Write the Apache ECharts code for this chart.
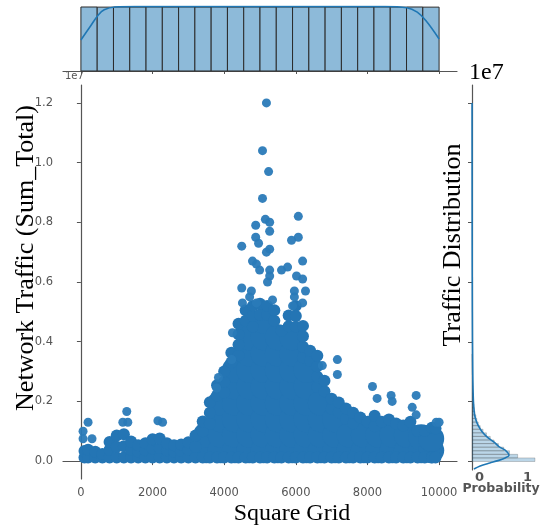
<!DOCTYPE html>
<html><head><meta charset="utf-8">
<script src="https://cdn.jsdelivr.net/npm/echarts@6/dist/echarts.min.js"></script>
<style>html,body{margin:0;padding:0;background:#fff}#c{width:545px;height:530px}</style>
</head><body><div id="c"></div>
<script>
// ---- data (traffic in units of 1e7) ----
const gridTicks = [0, 2000, 4000, 6000, 8000, 10000];
const trafficTicks = [0, 0.2, 0.4, 0.6, 0.8, 1.0, 1.2];
const probTicks = [0, 1];

// dense core of the scatter (columns of square-grid ids, traffic values per column)
const coreGrid = [3500, 3900, 4300, 4700, 5100, 5500, 5900, 6300, 6700, 7100, 7500, 7900, 8300, 8700, 9100, 9500, 9780];
const coreTraffic = [
  [0.036, 0.088],
  [0.036, 0.088, 0.14, 0.195],
  [0.036, 0.088, 0.14, 0.195, 0.25, 0.305],
  [0.036, 0.088, 0.14, 0.195, 0.25, 0.305, 0.36, 0.415],
  [0.036, 0.088, 0.14, 0.195, 0.25, 0.305, 0.36, 0.415, 0.47],
  [0.036, 0.088, 0.14, 0.195, 0.25, 0.305, 0.36, 0.415],
  [0.036, 0.088, 0.14, 0.195, 0.25, 0.305, 0.36, 0.415],
  [0.036, 0.088, 0.14, 0.195, 0.25, 0.305],
  [0.036, 0.088, 0.14, 0.195],
  [0.036, 0.088, 0.14],
  [0.036, 0.088],
  [0.036, 0.088],
  [0.036, 0.088],
  [0.036, 0.088],
  [0.036, 0.088],
  [0.036, 0.08],
  [0.036, 0.075]
];

// dense points along the body and upper edge of the scatter
const denseGrid = [100, 200, 400, 600, 800, 1000, 1200, 1400, 1600, 1800, 2000, 2200, 2400, 2600, 2800, 3000, 3200,
  3400, 3600, 3800, 4000, 4200, 4400, 4600, 4800, 5000, 5200, 5400, 5600, 5800, 6000, 6200, 6400, 6600, 6800,
  7000, 7200, 7400, 7600, 7800, 8000, 8200, 8400, 8600, 8800, 9000, 9200, 9400, 9600, 9800, 9900];
const denseTraffic = [
  [0.012, 0.034], [0.012, 0.038], [0.012, 0.031], [0.012, 0.024], [0.012, 0.038, 0.064],
  [0.012, 0.048, 0.086], [0.012, 0.05, 0.09], [0.012, 0.038, 0.066], [0.012, 0.032, 0.053], [0.012, 0.036, 0.06],
  [0.012, 0.042, 0.073], [0.012, 0.044, 0.076], [0.012, 0.036, 0.06], [0.012, 0.032, 0.053], [0.012, 0.034, 0.056],
  [0.012, 0.038, 0.063], [0.012, 0.048, 0.086],
  [0.012, 0.1, 0.133], [0.012, 0.126, 0.162, 0.197], [0.012, 0.22, 0.254], [0.012, 0.23, 0.266, 0.3], [0.012, 0.33, 0.363],
  [0.012, 0.355, 0.39, 0.425, 0.46], [0.012, 0.47, 0.505], [0.012, 0.45, 0.486, 0.52], [0.012, 0.49, 0.527],
  [0.012, 0.49, 0.52], [0.012, 0.47, 0.505], [0.012, 0.437], [0.012, 0.452, 0.488], [0.012, 0.45, 0.486, 0.52],
  [0.012, 0.348, 0.383, 0.418, 0.453], [0.012, 0.335, 0.37], [0.012, 0.248, 0.283, 0.318, 0.353], [0.012, 0.234, 0.269],
  [0.012, 0.175, 0.209], [0.012, 0.164, 0.196], [0.012, 0.141, 0.176], [0.012, 0.127, 0.162], [0.012, 0.146],
  [0.012, 0.132], [0.012, 0.117, 0.152], [0.012, 0.132], [0.012, 0.139], [0.012, 0.126], [0.012, 0.119],
  [0.012, 0.132], [0.012, 0.102], [0.012, 0.102], [0.012, 0.112], [0.012, 0.109]
];

// individual points above the dense body
const outlierGrid = [5180, 5070, 5240, 5070, 4880, 5150, 5270, 5270, 4880, 4960, 4490, 5270, 5180, 6070, 5880, 6070,
  6190, 4790, 4900, 4990, 5270, 5600, 5770, 5270, 5210, 6020, 6190, 4490, 4760, 4710, 4900, 5350, 5960, 6270, 5960,
  5910, 6190, 4510, 200, 60, 60, 310, 1280, 1170, 1310, 2150, 2280, 4230, 3840, 3790, 4210, 6740, 7160, 7160, 8140,
  8270, 8660, 8690, 9360, 9250, 9360, 9920, 10000];
const outlierTraffic = [1.20, 1.04, 0.97, 0.88, 0.79, 0.81, 0.80, 0.77, 0.75, 0.73, 0.72, 0.71, 0.70, 0.82, 0.74, 0.75,
  0.67, 0.67, 0.66, 0.64, 0.64, 0.64, 0.65, 0.62, 0.60, 0.62, 0.61, 0.58, 0.57, 0.55, 0.53, 0.54, 0.57, 0.57, 0.55,
  0.52, 0.53, 0.53, 0.13, 0.10, 0.075, 0.075, 0.166, 0.13, 0.13, 0.135, 0.13, 0.43, 0.28, 0.245, 0.34, 0.32, 0.34,
  0.29, 0.25, 0.21, 0.22, 0.20, 0.22, 0.18, 0.155, 0.13, 0.13];

// top marginal: square grid histogram (22 bins over 0..10000) and KDE
const gridBinCount = 22;
const gridCounts = [455, 454, 455, 454, 455, 454, 455, 454, 455, 454, 455, 454, 455, 454, 455, 454, 455, 454, 455, 454, 455, 454];
const gridKdeX = [0, 270, 470, 650, 950, 1500, 5000, 8500, 9100, 9390, 9640, 10000];
const gridKdeY = [220, 320, 393, 435, 455, 458, 458, 458, 450, 418, 355, 227];

// right marginal: traffic histogram (bin width 0.012) and KDE (probability)
const trafficBinWidth = 0.012;
const trafficProb = [1.31, 0.95, 0.78, 0.66, 0.55, 0.46, 0.38, 0.30, 0.23, 0.17, 0.13, 0.10, 0.08, 0.06, 0.05,
  0.04, 0.032, 0.026, 0.021, 0.017, 0.014, 0.012, 0.010, 0.009, 0.008, 0.007, 0.006, 0.006, 0.005, 0.005];
const kdeTraffic = [-0.025, -0.015, -0.005, 0.003, 0.012, 0.02, 0.028, 0.038, 0.05, 0.065, 0.08, 0.1, 0.12, 0.14, 0.16, 0.2, 0.3, 0.5, 0.8, 1.2];
const kdeProb = [0.04, 0.17, 0.37, 0.54, 0.69, 0.77, 0.75, 0.69, 0.56, 0.46, 0.33, 0.21, 0.13, 0.08, 0.05, 0.03, 0.015, 0.007, 0.003, 0.001];

// ---- build ----
const BLUE = '#2475b4';
const GRAY = '#555555';
const SERIF = '"Liberation Serif", "DejaVu Serif", serif';
const SANS = '"DejaVu Sans", sans-serif';

const corePts = [];
coreGrid.forEach((x, i) => coreTraffic[i].forEach(y => corePts.push([x, y])));
const densePts = [];
denseGrid.forEach((x, i) => denseTraffic[i].forEach(y => densePts.push([x, y])));
const outPts = outlierGrid.map((x, i) => [x, outlierTraffic[i]]);

const gw = 10000 / gridBinCount;
const topBins = gridCounts.map((c, i) => [i * gw, (i + 1) * gw, c]);
const rightBins = trafficProb.map((p, i) => [i * trafficBinWidth, (i + 1) * trafficBinWidth, p]);

const chart = echarts.init(document.getElementById('c'), null, {renderer: 'canvas'});
chart.setOption({
  animation: false,
  backgroundColor: '#fff',
  grid: [
    {left: 63, top: 85, width: 394, height: 394},
    {left: 63, top: 6, width: 394, height: 65},
    {left: 472, top: 85, width: 73, height: 385}
  ],
  xAxis: [
    {gridIndex: 0, type: 'value', min: -500, max: 10500,
      axisLine: {lineStyle: {color: GRAY, width: 1.2}},
      axisTick: {customValues: gridTicks, length: 4, lineStyle: {color: GRAY}},
      axisLabel: {customValues: gridTicks, color: GRAY, fontSize: 11.5, fontFamily: SANS, margin: 8,
        formatter: v => String(v)},
      splitLine: {show: false}},
    {gridIndex: 1, type: 'value', min: -500, max: 10500,
      axisLine: {lineStyle: {color: GRAY, width: 1.2}},
      axisTick: {customValues: gridTicks, length: 3, lineStyle: {color: GRAY}},
      axisLabel: {show: true, customValues: gridTicks, formatter: () => ''}, splitLine: {show: false}},
    {gridIndex: 2, type: 'value', min: 0, max: 1.52,
      axisLine: {show: false}, axisTick: {show: false},
      axisLabel: {customValues: probTicks, color: GRAY, fontSize: 13, fontWeight: 'bold', fontFamily: SANS,
        align: 'left', padding: [0, 0, 0, 3], margin: 1},
      splitLine: {show: false}}
  ],
  yAxis: [
    {gridIndex: 0, type: 'value', min: -0.06, max: 1.26,
      axisLine: {show: true, lineStyle: {color: GRAY, width: 1.2}},
      axisTick: {show: true, customValues: trafficTicks, length: 4, lineStyle: {color: GRAY}},
      axisLabel: {customValues: trafficTicks, color: GRAY, fontSize: 11.5, fontFamily: SANS, margin: 10,
        formatter: v => v.toFixed(1)},
      splitLine: {show: false}},
    {gridIndex: 1, type: 'value', min: 0, max: 462, show: false},
    {gridIndex: 2, type: 'value', min: -0.0284, max: 1.26,
      axisLine: {show: true, lineStyle: {color: GRAY, width: 1.2}},
      axisTick: {show: true, customValues: trafficTicks, length: 4, lineStyle: {color: GRAY}},
      axisLabel: {show: true, customValues: trafficTicks, formatter: () => ''}, splitLine: {show: false}}
  ],
  series: [
    {type: 'scatter', xAxisIndex: 0, yAxisIndex: 0, data: corePts, symbolSize: 26,
      itemStyle: {color: BLUE, opacity: 1}, silent: true},
    {type: 'scatter', xAxisIndex: 0, yAxisIndex: 0, data: densePts, symbolSize: 12,
      itemStyle: {color: BLUE, opacity: 1}, silent: true},
    {type: 'scatter', xAxisIndex: 0, yAxisIndex: 0, data: outPts, symbolSize: 9,
      itemStyle: {color: '#2a7ab8', opacity: 0.95}, silent: true},
    {type: 'custom', xAxisIndex: 1, yAxisIndex: 1, data: topBins, encode: {x: [0, 1], y: 2},
      renderItem: (params, api) => {
        const a = api.coord([api.value(0), api.value(2)]);
        const b = api.coord([api.value(1), 0]);
        return {type: 'rect', shape: {x: a[0], y: a[1], width: b[0] - a[0], height: b[1] - a[1]},
          style: {fill: '#8dbad9', stroke: '#2b2b2b', lineWidth: 1}};
      }, silent: true},
    {type: 'line', xAxisIndex: 1, yAxisIndex: 1, data: gridKdeX.map((x, i) => [x, gridKdeY[i]]),
      smooth: 0.4, symbol: 'none', lineStyle: {color: '#1f77b4', width: 1.6}, silent: true},
    {type: 'custom', xAxisIndex: 2, yAxisIndex: 2, data: rightBins, encode: {y: [0, 1], x: 2},
      renderItem: (params, api) => {
        const a = api.coord([0, api.value(1)]);
        const b = api.coord([api.value(2), api.value(0)]);
        return {type: 'rect', shape: {x: a[0], y: a[1], width: b[0] - a[0], height: b[1] - a[1]},
          style: {fill: 'rgba(31,119,180,0.30)', stroke: 'rgba(70,70,70,0.45)', lineWidth: 0.6}};
      }, silent: true},
    {type: 'line', xAxisIndex: 2, yAxisIndex: 2, data: kdeProb.map((p, i) => [p, kdeTraffic[i]]),
      smooth: 0.3, symbol: 'none', lineStyle: {color: '#1f77b4', width: 1.6}, silent: true}
  ],
  graphic: [
    {type: 'text', left: 65, top: 71, style: {text: '1e7', fill: GRAY, font: '10px ' + SANS}},
    {type: 'text', left: 469, top: 61, style: {text: '1e7', fill: '#000', font: '24px ' + SERIF}},
    {type: 'text', x: 26, y: 258, rotation: Math.PI / 2,
      style: {text: 'Network Traffic (Sum_Total)', fill: '#000', font: '26px ' + SERIF, align: 'center', verticalAlign: 'middle'}},
    {type: 'text', x: 292, y: 514,
      style: {text: 'Square Grid', fill: '#000', font: '24px ' + SERIF, align: 'center', verticalAlign: 'middle'}},
    {type: 'text', x: 453, y: 245, rotation: Math.PI / 2,
      style: {text: 'Traffic Distribution', fill: '#000', font: '26px ' + SERIF, align: 'center', verticalAlign: 'middle'}},
    {type: 'text', x: 501, y: 489,
      style: {text: 'Probability', fill: GRAY, font: 'bold 12.5px ' + SANS, align: 'center', verticalAlign: 'middle'}}
  ]
});
</script></body></html>
